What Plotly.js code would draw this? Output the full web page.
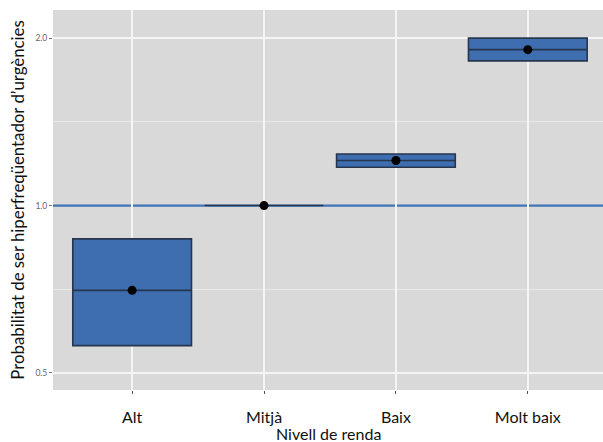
<!DOCTYPE html>
<html>
<head>
<meta charset="utf-8">
<script src="https://cdn.plot.ly/plotly-3.0.1.min.js"></script>
<style>html,body{margin:0;padding:0;background:#fff;}#chart{width:603px;height:442px;}</style>
</head>
<body>
<div id="chart"></div>
<script>
const categories = ["Alt", "Mitjà", "Baix", "Molt baix"];
const lower = [0.56, 1.0, 1.172, 1.82];
const estimate = [0.704, 1.0, 1.205, 1.907];
const upper = [0.871, 1.0, 1.238, 2.0];
const refValue = 1.0;
const yTickVals = [0.5, 1.0, 2.0];
const yTickText = ["0.5", "1.0", "2.0"];
const yGridVals = [0.5, 2.0];
const yMinorVals = [0.7071, 1.4142];
const xTitle = "Nivell de renda";
const yTitle = "Probabilitat de ser hiperfreqüentador d’urgències";

const yRange = [Math.log10(0.466), Math.log10(2.247)];

const boxTrace = {
  type: "box",
  x: categories,
  q1: lower,
  median: estimate,
  q3: upper,
  lowerfence: lower,
  upperfence: upper,
  width: 0.9,
  whiskerwidth: 0,
  fillcolor: "#3e6db0",
  line: {color: "#26364d", width: 1.6},
  hoverinfo: "skip",
  showlegend: false
};

const pointTrace = {
  type: "scatter",
  mode: "markers",
  x: categories,
  y: estimate,
  yaxis: "y2",
  marker: {color: "#000000", size: 9},
  hoverinfo: "skip",
  showlegend: false
};

const layout = {
  width: 603,
  height: 442,
  margin: {l: 53, r: 0, t: 10, b: 52},
  paper_bgcolor: "#ffffff",
  plot_bgcolor: "#d9d9d9",
  font: {family: "Lato, 'DejaVu Sans', sans-serif", color: "#000"},
  showlegend: false,
  xaxis: {
    type: "category",
    range: [-0.6, 3.57],
    showgrid: true,
    gridcolor: "#f5f5f5",
    gridwidth: 1.6,
    zeroline: false,
    showline: false,
    ticks: "outside",
    ticklen: 3,
    tickcolor: "#555",
    ticklabelstandoff: 10,
    tickfont: {size: 16, color: "#111"}
  },
  yaxis: {
    type: "log",
    range: yRange,
    tickmode: "array",
    tickvals: yGridVals,
    showticklabels: false,
    ticks: "",
    showgrid: true,
    gridcolor: "#f5f5f5",
    gridwidth: 1.6,
    minor: {tickmode: "array", tickvals: yMinorVals, showgrid: true, gridcolor: "#ececec", gridwidth: 0.8, ticks: ""},
    zeroline: false,
    showline: false
  },
  yaxis2: {
    type: "log",
    overlaying: "y",
    side: "left",
    range: yRange,
    tickmode: "array",
    tickvals: yTickVals,
    ticktext: yTickText,
    showgrid: false,
    zeroline: false,
    showline: false,
    ticks: "outside",
    ticklen: 3,
    tickcolor: "#777",
    tickfont: {size: 8.5, color: "#666"},
    title: {text: yTitle, font: {size: 16.8, color: "#111"}, standoff: 6}
  },
  annotations: [{
    text: xTitle, xref: "paper", yref: "paper", x: 0.5, y: 0, yshift: -43,
    xanchor: "center", yanchor: "middle", showarrow: false,
    font: {size: 16, color: "#111"}
  }],
  shapes: [{
    type: "line", xref: "x domain", x0: 0, x1: 1, yref: "y", y0: refValue, y1: refValue,
    layer: "below",
    line: {color: "#3f74b8", width: 2.2}
  }]
};

Plotly.newPlot("chart", [boxTrace, pointTrace], layout, {displayModeBar: false, staticPlot: true});
</script>
</body>
</html>
